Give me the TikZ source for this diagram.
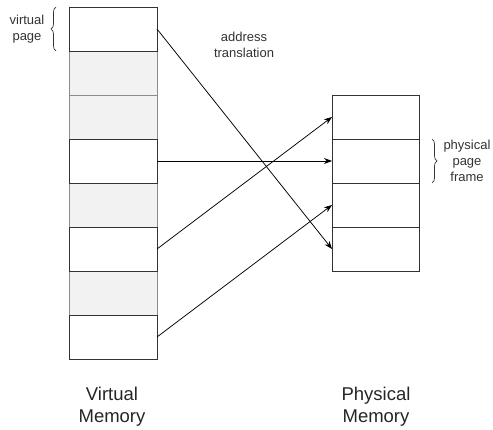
\documentclass[tikz,border=0pt]{standalone}
\usepackage{fontspec}
\setmainfont{Liberation Sans}
\usetikzlibrary{arrows.meta,decorations.pathreplacing}
\begin{document}
\begin{tikzpicture}[x=1pt,y=-1pt,
  page/.style={draw=black!80,line width=0.8pt,fill=white,minimum width=88pt,minimum height=44pt,inner sep=0pt,outer sep=0pt},
  shaded/.style={page,draw=black!45,fill=black!5},
  map/.style={-{Stealth[length=8pt,width=6pt]},line width=0.75pt,black},
  small/.style={font=\fontsize{13}{16}\selectfont,align=center,text=black!80},
  big/.style={font=\fontsize{18.5}{22}\selectfont,align=center,text=black!85},
  bracebar/.style={decorate,decoration={brace,amplitude=5pt},line width=0.7pt,black!80}]
\useasboundingbox (0,0) rectangle (493,430);
% virtual memory column: shaded pages first, outlined pages on top
\foreach \i in {1,2,4,6}
  \node[shaded] (v\i) at (113,{29+44*\i}) {};
\foreach \i in {0,3,5,7}
  \node[page] (v\i) at (113,{29+44*\i}) {};
% physical memory column
\foreach \i in {0,1,2,3}
  \node[page,minimum width=87pt] (p\i) at (375.5,{117+44*\i}) {};
% address translation mappings
\draw[map] (v0.east) -- (p3.west);
\draw[map] (v3.east) -- (p1.west);
\draw[map] (v5.east) -- (p0.west);
\draw[map] (v7.east) -- (p2.west);
% labels
\node[small] (vp) at (27,29) {virtual\\page};
\coordinate (vb1) at (56,51);
\coordinate (vb2) at (56,7);
\draw[bracebar] (vb1) -- (vb2);
\node[small] (at) at (244,45) {address\\translation};
\coordinate (pb1) at (432,139);
\coordinate (pb2) at (432,183);
\draw[bracebar] (pb1) -- (pb2);
\node[small] (pf) at (467,161) {physical\\page\\frame};
\node[big] (vm) at (112,407) {Virtual\\Memory};
\node[big] (pm) at (376,407) {Physical\\Memory};
\end{tikzpicture}
\end{document}
